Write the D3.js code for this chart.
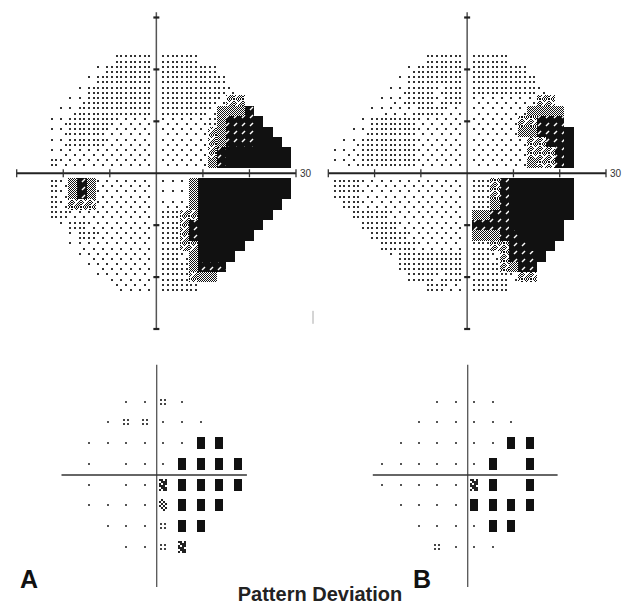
<!DOCTYPE html>
<html>
<head>
<meta charset="utf-8">
<script src="https://cdn.jsdelivr.net/npm/d3@7"></script>
<style>
  body { margin: 0; background: #fff; }
  svg { display: block; }
</style>
</head>
<body>
<svg id="chart" width="624" height="605"></svg>
<script>
// Greyscale maps, one char per 2 degree cell.
// rows run y = 22 .. -22 (step 2), columns x = -28 .. 28 (step 2)
// . empty, 1-3 dot densities, 4 grey, 5 hatched grey, 6 black with marks, 7 black
const greyA = [
  "..........3333.3333..........",
  "........133333.333333........",
  ".......1333333.3333333.......",
  "......13333333.33333332......",
  ".....123333333.333333255.....",
  "....1233333333.3333324446....",
  "...12333332222.22222346667...",
  "...12333322222.222225466677..",
  "...12333322222.2222254666777.",
  "...12222222222.22222567777777",
  "...32222222222.22222467777777",
  ".............................",
  "...32464222222.11147777777777",
  "...32464222222.11147777777777",
  "...32555222222.2224777777777.",
  "...33222222222.335577777777..",
  "....1332222222.33567777777...",
  ".....133222222.3356777777....",
  ".....122222222.335577777.....",
  "......12222222.33247777......",
  ".......1222222.3334666.......",
  "........122222.333544........",
  "..........2222.3333.........."
];
const greyB = [
  "..........3333.3333..........",
  "........233333.333333........",
  ".......1333333.3333333.......",
  "......12333233.33333332......",
  ".....122333233.222222255.....",
  "....1222233322.2222224444....",
  "...13333322222.2222255666....",
  "..123333322222.22222446667...",
  ".1233333322222.22222255667...",
  "12233333322222.22222255567...",
  "12233333322222.22222245567...",
  ".............................",
  "33322222222222.33567777777...",
  "33322222222222.33567777777...",
  ".3322222222222.33467777777...",
  "..333322222222.44667777777...",
  "...33332222222.6666777777....",
  "....3333222222.4446677777....",
  ".....333322222.335566777.....",
  "......13333333.33256667......",
  ".......3333333.3335466.......",
  "........333233.3333255.......",
  "..........3322.3333.........."
];

// Pattern deviation symbols on the 6 degree grid
// 0 none, 1 normal, 2 p<5%, 3 p<2%, 4 p<1%, 5 p<0.5%
const pdCols = [-27, -21, -15, -9, -3, 3, 9, 15, 21, 27];
const pdRows = [21, 15, 9, 3, -3, -9, -15, -21];
const pdA = [
  "0001121000",
  "0012211100",
  "0111111550",
  "0101115555",
  "0101145555",
  "0111135550",
  "0011125500",
  "0001124000"
];
const pdB = [
  "0001111000",
  "0011111100",
  "0111111550",
  "1111115050",
  "1111145050",
  "0111155550",
  "0011115500",
  "0002111000"
];

const axisTicks = [-30, -20, -10, 0, 10, 20, 30];
const panelLabels = ["A", "B"];
const footer = "Pattern Deviation";

const svg = d3.select('#chart');
const defs = svg.append('defs');

function addPattern(id, w, h, build) {
  const p = defs.append('pattern')
    .attr('id', id)
    .attr('patternUnits', 'userSpaceOnUse')
    .attr('width', w)
    .attr('height', h);
  build(p);
}

addPattern('grey', 2, 2, p => {
  p.append('rect').attr('width', 2).attr('height', 2).attr('fill', '#fff');
  p.append('rect').attr('width', 1).attr('height', 1).attr('fill', '#111');
  p.append('rect').attr('x', 1).attr('y', 1).attr('width', 1).attr('height', 1).attr('fill', '#111');
});
addPattern('hatch', 9, 9, p => {
  p.append('rect').attr('width', 9).attr('height', 9).attr('fill', 'url(#grey)');
  p.append('path')
    .attr('d', 'M1,8L8,1M1,1L4,4')
    .attr('stroke', '#fff').attr('stroke-width', 1);
});
addPattern('dark', 8, 8, p => {
  p.append('rect').attr('width', 8).attr('height', 8).attr('fill', '#111');
  p.append('path').attr('d', 'M2,6L5,3').attr('stroke', '#fff').attr('stroke-width', 1.4);
});

const fills = { 4: 'url(#grey)', 5: 'url(#hatch)', 6: 'url(#dark)', 7: '#111' };
const dotLayouts = {
  1: [[-0.5, 0.5]],
  2: [[-0.5, 0.5], [0.5, -0.5]],
  3: [[-0.5, 0.5], [0.5, 0.5], [-0.5, -0.5], [0.5, -0.5]]
};

// small bitmaps for the probability symbols (2px cells)
const symBitmaps = {
  3: ["0100", "1010", "0101", "1010", "0101", "0010"],
  4: ["1101", "0111", "1011", "1110", "0111", "1011"]
};

const topY = d3.scaleLinear().domain([30, -30]).range([17.5, 329]);
const pdY = d3.scaleLinear().domain([30, -30]).range([370.7, 577.7]);

const panels = [
  {
    grey: greyA, pd: pdA, label: panelLabels[0], labelX: 20,
    x: d3.scaleLinear().domain([-30, 30]).range([16.7, 296]),
    px: d3.scaleLinear().domain([-30, 30]).range([61.5, 246.9])
  },
  {
    grey: greyB, pd: pdB, label: panelLabels[1], labelX: 413,
    x: d3.scaleLinear().domain([-30, 30]).range([328.3, 606]),
    px: d3.scaleLinear().domain([-30, 30]).range([372.8, 557.6])
  }
];

panels.forEach(panel => {
  const x = panel.x, y = topY;
  const g = svg.append('g');

  // greyscale cells
  const cells = [];
  panel.grey.forEach((row, r) => {
    [...row].forEach((ch, c) => {
      if (ch !== '.') cells.push({ gx: -28 + 2 * c, gy: 22 - 2 * r, level: +ch });
    });
  });

  g.append('g').attr('shape-rendering', 'crispEdges')
    .selectAll('rect')
    .data(cells.filter(d => d.level >= 4))
    .join('rect')
    .attr('x', d => x(d.gx - 1))
    .attr('y', d => y(d.gy + 1))
    .attr('width', d => x(d.gx + 1) - x(d.gx - 1))
    .attr('height', d => y(d.gy - 1) - y(d.gy + 1))
    .attr('fill', d => fills[d.level]);

  const dots = [];
  cells.filter(d => d.level <= 3).forEach(d => {
    dotLayouts[d.level].forEach(([dx, dy]) => dots.push({ px: d.gx + dx, py: d.gy + dy }));
  });
  g.append('g').attr('shape-rendering', 'crispEdges')
    .selectAll('rect')
    .data(dots)
    .join('rect')
    .attr('x', d => Math.round(x(d.px)) - 1)
    .attr('y', d => Math.round(y(d.py)) - 1)
    .attr('width', 2)
    .attr('height', 2)
    .attr('fill', '#333');

  // axes of the greyscale
  g.append('line')
    .attr('x1', x(0)).attr('x2', x(0))
    .attr('y1', y(31)).attr('y2', y(-30))
    .attr('stroke', '#555').attr('stroke-width', 1.5);
  g.append('line')
    .attr('x1', x(-30)).attr('x2', x(30))
    .attr('y1', y(0)).attr('y2', y(0))
    .attr('stroke', '#222').attr('stroke-width', 2);

  g.selectAll('.tx').data(axisTicks.filter(t => t !== 0)).join('line')
    .attr('x1', d => x(d)).attr('x2', d => x(d))
    .attr('y1', y(0) - 4).attr('y2', y(0) + 4)
    .attr('stroke', '#333').attr('stroke-width', 1.3);
  g.selectAll('.ty').data(axisTicks.filter(t => t !== 0)).join('line')
    .attr('x1', x(0) - 3).attr('x2', x(0) + 3)
    .attr('y1', d => y(d)).attr('y2', d => y(d))
    .attr('stroke', '#222').attr('stroke-width', 2.2);

  g.append('text')
    .attr('x', x(30) + 4).attr('y', y(0) + 4)
    .attr('font-family', 'Liberation Sans, Arial, sans-serif')
    .attr('font-size', 10)
    .attr('fill', '#333')
    .text(axisTicks[axisTicks.length - 1]);

  // pattern deviation plot
  const px = panel.px;
  const pg = svg.append('g');
  const axisX = px(0) + 2.5;
  pg.append('line')
    .attr('x1', axisX).attr('x2', axisX)
    .attr('y1', pdY(31.7)).attr('y2', pdY(-32.7))
    .attr('stroke', '#555').attr('stroke-width', 1.3);
  pg.append('line')
    .attr('x1', px(-30)).attr('x2', px(30))
    .attr('y1', pdY(0) + 0.8).attr('y2', pdY(0) + 0.8)
    .attr('stroke', '#333').attr('stroke-width', 1.5);

  const syms = [];
  panel.pd.forEach((row, r) => {
    [...row].forEach((ch, c) => {
      if (ch !== '0') syms.push({ sx: pdCols[c], sy: pdRows[r], code: +ch });
    });
  });

  const sg = pg.selectAll('g.sym').data(syms).join('g')
    .attr('class', 'sym')
    .attr('shape-rendering', 'crispEdges')
    .attr('transform', d => `translate(${Math.round(px(d.sx))},${Math.round(pdY(d.sy))})`);

  sg.each(function (d) {
    const s = d3.select(this);
    if (d.code === 1) {
      s.append('rect').attr('x', -1).attr('y', -1).attr('width', 2).attr('height', 2).attr('fill', '#555');
    } else if (d.code === 2) {
      [[-3, -3], [1, -3], [-3, 1], [1, 1]].forEach(([dx, dy]) =>
        s.append('rect').attr('x', dx).attr('y', dy).attr('width', 2).attr('height', 2).attr('fill', '#444'));
    } else if (d.code === 5) {
      s.append('rect').attr('x', -4).attr('y', -6).attr('width', 8).attr('height', 12)
        .attr('rx', 1).attr('fill', '#111');
    } else {
      symBitmaps[d.code].forEach((line, j) => {
        [...line].forEach((b, i) => {
          if (b === '1') s.append('rect')
            .attr('x', -4 + i * 2).attr('y', -6 + j * 2)
            .attr('width', 2).attr('height', 2).attr('fill', '#222');
        });
      });
    }
  });

  svg.append('text')
    .attr('x', panel.labelX).attr('y', 588)
    .attr('font-family', 'Liberation Sans, Arial, sans-serif')
    .attr('font-weight', 'bold')
    .attr('font-size', 25)
    .attr('fill', '#111')
    .text(panel.label);
});

// stray mark right of panel A
svg.append('line')
  .attr('x1', 313).attr('x2', 313).attr('y1', topY(-26.5)).attr('y2', topY(-29))
  .attr('stroke', '#aaa').attr('stroke-width', 1);

svg.append('text')
  .attr('x', 320).attr('y', 601)
  .attr('text-anchor', 'middle')
  .attr('font-family', 'Liberation Sans, Arial, sans-serif')
  .attr('font-weight', 'bold')
  .attr('font-size', 20)
  .attr('fill', '#222')
  .text(footer);
</script>
</body>
</html>
